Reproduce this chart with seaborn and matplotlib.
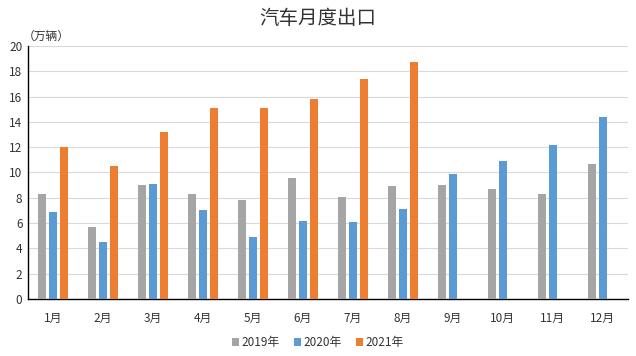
import pandas as pd
import numpy as np
import matplotlib
matplotlib.use('Agg')
import matplotlib.pyplot as plt
import seaborn as sns

# --- Dados (万辆) ---
meses = ['1月', '2月', '3月', '4月', '5月', '6月', '7月', '8月', '9月', '10月', '11月', '12月']
anos = ['2019年', '2020年', '2021年']
vals_2019 = [8.3, 5.7, 9.0, 8.3, 7.8, 9.6, 8.1, 8.9, 9.0, 8.7, 8.3, 10.7]
vals_2020 = [6.9, 4.5, 9.1, 7.0, 4.9, 6.2, 6.1, 7.1, 9.9, 10.9, 12.2, 14.4]
vals_2021 = [12.0, 10.5, 13.2, 15.1, 15.1, 15.8, 17.4, 18.7, np.nan, np.nan, np.nan, np.nan]
cores = ['#A5A5A5', '#5B9BD5', '#ED7D31']

df = pd.DataFrame({
    'mes': meses * 3,
    'ano': [anos[0]] * 12 + [anos[1]] * 12 + [anos[2]] * 12,
    'valor': vals_2019 + vals_2020 + vals_2021,
})

sns.set_style('white')
plt.rcParams['font.family'] = ['Noto Sans CJK SC', 'DejaVu Sans']

fig = plt.figure(figsize=(6.36, 3.56), dpi=100)
ax = fig.add_axes([0.044, 0.160, 0.943, 0.711])

sns.barplot(data=df, x='mes', y='valor', hue='ano', order=meses, hue_order=anos,
            palette=cores, width=0.66, gap=0.27, errorbar=None, saturation=1,
            linewidth=0, ax=ax, zorder=3)

ax.set_ylim(0, 20)
ax.set_yticks(range(0, 21, 2))
ax.set_xlim(-0.5, 11.5)
ax.grid(axis='y', color='#D9D9D9', linewidth=0.8, zorder=0)
ax.set_axisbelow(True)
for s in ['top', 'right']:
    ax.spines[s].set_visible(False)
ax.spines['left'].set_color('black')
ax.spines['bottom'].set_color('black')
ax.spines['left'].set_linewidth(1.0)
ax.spines['bottom'].set_linewidth(1.0)
ax.tick_params(axis='both', length=0, labelsize=8.5, colors='#333333', pad=4)
ax.tick_params(axis='x', pad=9)
ax.set_xlabel('')
ax.set_ylabel('')

fig.text(0.5, 0.948, '汽车月度出口', ha='center', va='center', fontsize=14, color='#333333')
fig.text(0.035, 0.897, '（万辆）', ha='left', va='center', fontsize=8.5, color='#333333')

handles, labels = ax.get_legend_handles_labels()
ax.legend(handles, labels, loc='center', bbox_to_anchor=(0.5, 0.037), bbox_transform=fig.transFigure,
          ncol=3, frameon=False, fontsize=8.5, handlelength=0.6, handleheight=0.6,
          handletextpad=0.2, columnspacing=1.2, labelcolor='#333333')

plt.savefig('out.png', dpi=100)
plt.close()
